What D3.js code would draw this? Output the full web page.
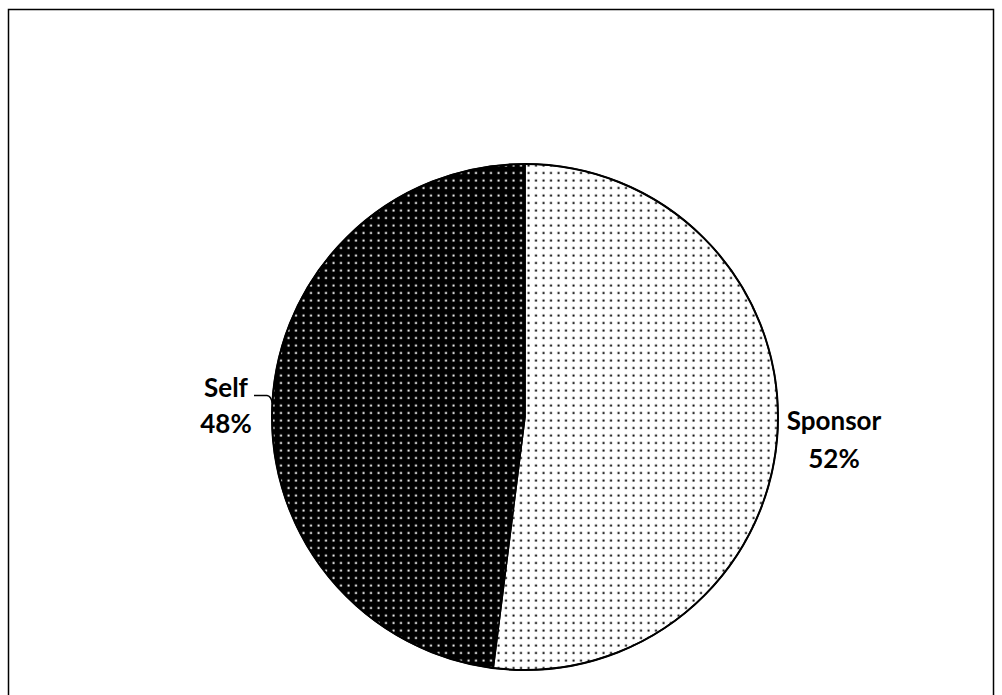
<!DOCTYPE html>
<html>
<head>
<meta charset="utf-8">
<script src="https://cdn.jsdelivr.net/npm/d3@7"></script>
<style>
  html, body { margin: 0; padding: 0; background: #fff; }
  svg { display: block; }
  text { font-family: Lato, "Open Sans", sans-serif; font-weight: bold; fill: #000; }
</style>
</head>
<body>
<script>
const categories = ["Sponsor", "Self"];
const values = [52, 48];
const labels = ["52%", "48%"];

const W = 1002, H = 695;
const svg = d3.select("body").append("svg").attr("width", W).attr("height", H);

const defs = svg.append("defs");
function dotPattern(id, bg, fg) {
  const p = defs.append("pattern").attr("id", id)
    .attr("patternUnits", "userSpaceOnUse")
    .attr("width", 7.5).attr("height", 7.5);
  p.append("rect").attr("width", 7.5).attr("height", 7.5).attr("fill", bg);
  p.append("rect").attr("x", 2.5).attr("y", 2.5).attr("width", 2).attr("height", 2).attr("fill", fg);
}
dotPattern("light", "#fff", "#000");
dotPattern("dark", "#000", "#fff");

// frame
svg.append("rect").attr("x", 8.5).attr("y", 9.5).attr("width", 985).attr("height", 720)
  .attr("fill", "none").attr("stroke", "#000").attr("stroke-width", 1.5);

const cx = 525, cy = 417, r = 253;
const g = svg.append("g").attr("transform", `translate(${cx},${cy})`);

const pie = d3.pie().sort(null).value(d => d);
const arcs = pie(values);
const arc = d3.arc().innerRadius(0).outerRadius(r);
const fills = ["url(#light)", "url(#dark)"];

g.selectAll("path.slice").data(arcs).join("path")
  .attr("class", "slice")
  .attr("d", arc)
  .attr("fill", (d, i) => fills[i])
  .attr("stroke", "#000")
  .attr("stroke-width", 1.5)
  .attr("stroke-linejoin", "round");

g.append("circle").attr("r", r).attr("fill", "none").attr("stroke", "#000").attr("stroke-width", 2);

// labels
const labelPos = [
  { x: 834, y1: 430, y2: 468 },
  { x: 226, y1: 397, y2: 433 }
];
arcs.forEach((d, i) => {
  const t = svg.append("text").attr("text-anchor", "middle").style("font-size", "26px");
  t.append("tspan").attr("x", labelPos[i].x).attr("y", labelPos[i].y1).text(categories[i]);
  t.append("tspan").attr("x", labelPos[i].x).attr("y", labelPos[i].y2).text(labels[i]);
});

// leader line for Self
const px = cx - Math.sqrt(r * r - (403 - cy) * (403 - cy));
svg.append("path")
  .attr("d", `M254,395.5 L267,395.5 Q271,396 ${px},403`)
  .attr("fill", "none").attr("stroke", "#000").attr("stroke-width", 1.5);
</script>
</body>
</html>
